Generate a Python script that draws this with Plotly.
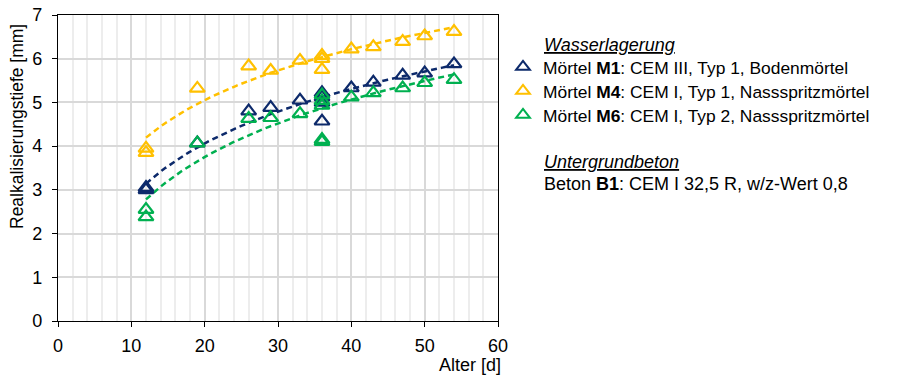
import numpy as np
import plotly.graph_objects as go

# Age [d] and realkalisation depth [mm] per mortar
age_m1 = [12, 12, 19, 26, 29, 33, 36, 36, 36, 36, 40, 43, 47, 50, 54]
depth_m1 = [3.00, 3.05, 4.07, 4.80, 4.88, 5.05, 5.22, 5.12, 5.00, 4.57, 5.33, 5.46, 5.62, 5.67, 5.88]

age_m4 = [12, 12, 19, 26, 29, 33, 36, 36, 36, 40, 43, 47, 50, 54]
depth_m4 = [3.85, 3.95, 5.32, 5.83, 5.73, 5.96, 6.07, 6.00, 5.75, 6.22, 6.27, 6.39, 6.52, 6.62]

age_m6 = [12, 12, 19, 26, 29, 33, 36, 36, 36, 36, 36, 40, 43, 47, 50, 54]
depth_m6 = [2.55, 2.38, 4.07, 4.63, 4.65, 4.74, 5.17, 5.04, 4.93, 4.15, 4.10, 5.12, 5.22, 5.33, 5.45, 5.52]

# logarithmic trend lines  y = k * ln(t) + c
trend_m1 = (1.80, -1.33)
trend_m4 = (1.68, 0.02)
trend_m6 = (1.90, -1.94)

series_names = [
    "Mörtel <b>M1</b>: CEM III, Typ 1, Bodenmörtel",
    "Mörtel <b>M4</b>: CEM I, Typ 1, Nassspritzmörtel",
    "Mörtel <b>M6</b>: CEM I, Typ 2, Nassspritzmörtel",
]
series_colors = ["#0D2A6B", "#FFC000", "#00B050"]

x_ticks = [0, 10, 20, 30, 40, 50, 60]
y_ticks = [0, 1, 2, 3, 4, 5, 6, 7]

FONT = "Liberation Sans, Arial, sans-serif"
FS = 18

# plot area in pixels
L, R, T, B = 58, 498, 15, 321
W, H = 898, 375


def px_x(p):
    return (p - L) / (R - L)


def px_y(p):
    return (B - p) / (B - T)


fig = go.Figure()

series = [(age_m1, depth_m1), (age_m4, depth_m4), (age_m6, depth_m6)]
trends = [trend_m1, trend_m4, trend_m6]

for (ages, _), (k, c), color in zip(series, trends, series_colors):
    xs = np.linspace(min(ages), max(ages), 80)
    fig.add_trace(go.Scatter(
        x=xs, y=k * np.log(xs) + c, mode="lines",
        line=dict(color=color, width=2.5, dash="6px,4px"),
        showlegend=False, hoverinfo="skip",
    ))

# measured values, each with its own legend box
legend_rows = [67, 91, 115]
legend_keys = ["legend", "legend2", "legend3"]
for (ages, depths), name, color, key in zip(series, series_names, series_colors, legend_keys):
    fig.add_trace(go.Scatter(
        x=ages, y=depths, mode="markers", name=name, legend=key,
        marker=dict(symbol="triangle-up-open", size=13, color=color,
                    line=dict(color=color, width=2.2)),
    ))

layout_legends = {}
for key, row in zip(legend_keys, legend_rows):
    layout_legends[key] = dict(
        xref="container", yref="container",
        x=503 / W, y=1 - row / H, xanchor="left", yanchor="middle",
        font=dict(family=FONT, size=17.4, color="#000000"),
        itemwidth=30, itemsizing="constant", bgcolor="rgba(0,0,0,0)",
    )

fig.update_layout(
    width=W, height=H,
    margin=dict(l=L, r=W - R, t=T, b=H - B, autoexpand=False),
    paper_bgcolor="white", plot_bgcolor="white",
    font=dict(family=FONT, size=FS, color="#000000"),
    showlegend=True,
    **layout_legends,
)

fig.update_xaxes(
    range=[0, 60], tickvals=x_ticks, ticktext=[str(v) for v in x_ticks],
    showgrid=True, gridcolor="#D9D9D9", gridwidth=2,
    minor=dict(dtick=2, showgrid=True, gridcolor="#EDEDED", gridwidth=2),
    showline=True, linecolor="#000000", linewidth=1.3, mirror=True,
    ticks="outside", ticklen=5, tickcolor="#000000",
    zeroline=False, tickfont=dict(size=FS), ticklabelstandoff=3,
)
fig.update_yaxes(
    range=[0, 7], tickvals=y_ticks, ticktext=[str(v) for v in y_ticks],
    showgrid=True, gridcolor="#D9D9D9", gridwidth=2,
    showline=True, linecolor="#000000", linewidth=1.3, mirror=True,
    ticks="outside", ticklen=5, tickcolor="#000000",
    zeroline=False, tickfont=dict(size=FS), ticklabelstandoff=6,
)

ann = dict(xref="paper", yref="paper", showarrow=False,
           font=dict(family=FONT, size=FS, color="#000000"))
fig.add_annotation(text="Realkalisierungstiefe [mm]", x=px_x(17), y=px_y(127),
                   textangle=-90, xanchor="center", yanchor="middle",
                   font=dict(family=FONT, size=17.5, color="#000000"),
                   xref="paper", yref="paper", showarrow=False)
fig.add_annotation(text="Alter [d]", x=px_x(503), y=px_y(365),
                   xanchor="right", yanchor="middle", **ann)
fig.add_annotation(text="<i><u>Wasserlagerung</u></i>", x=px_x(542), y=px_y(45),
                   xanchor="left", yanchor="middle", **ann)
fig.add_annotation(text="<i><u>Untergrundbeton</u></i>", x=px_x(542), y=px_y(162),
                   xanchor="left", yanchor="middle", **ann)
fig.add_annotation(text="Beton <b>B1</b>: CEM I 32,5 R, w/z-Wert 0,8",
                   x=px_x(542), y=px_y(184),
                   xanchor="left", yanchor="middle", **ann)

fig.write_html("out.html")
